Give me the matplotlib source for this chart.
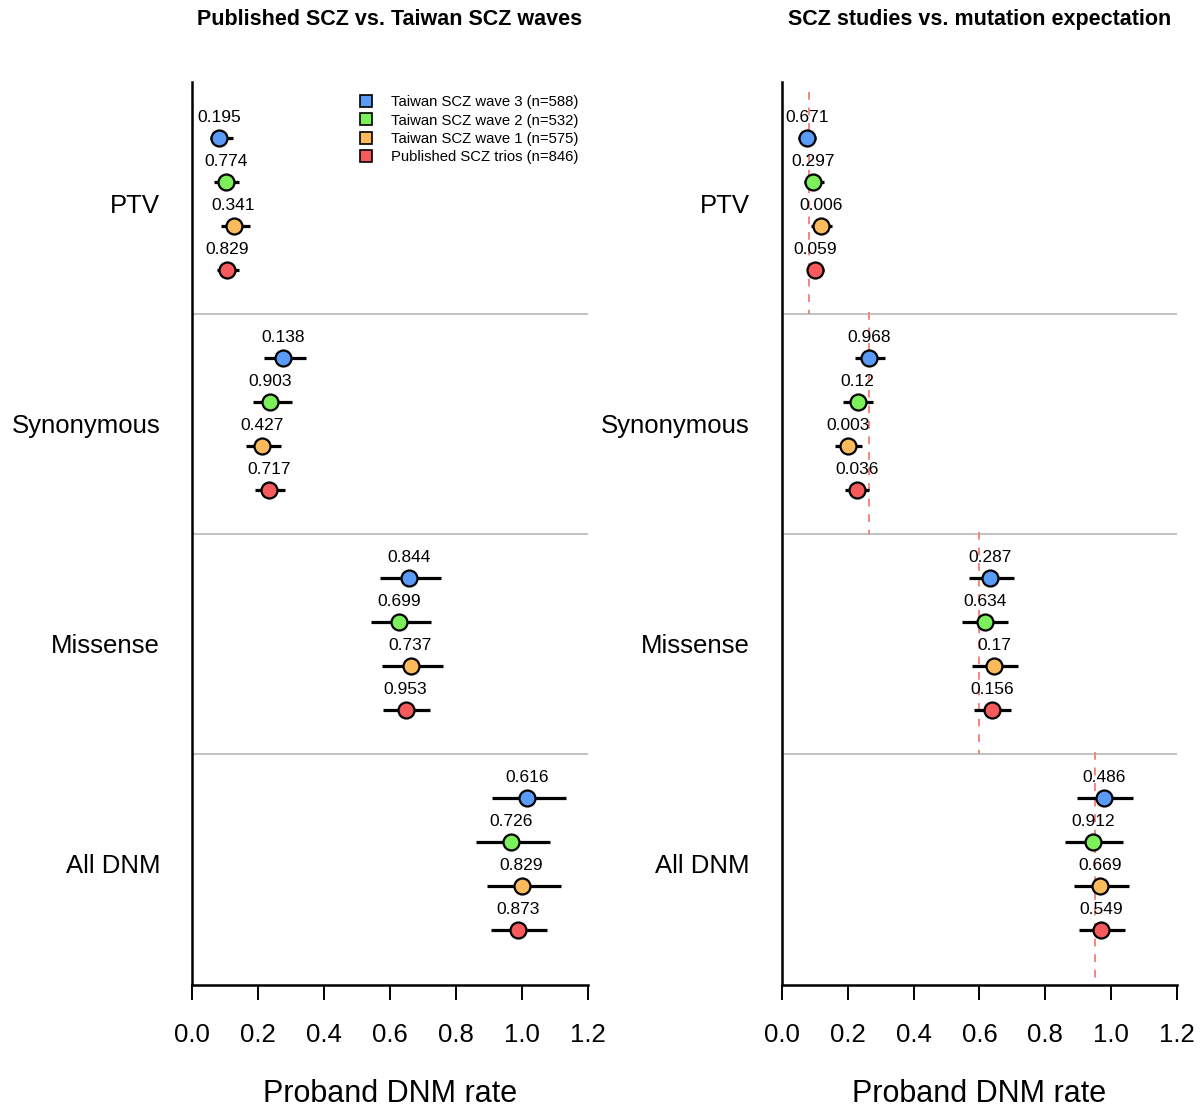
import matplotlib
matplotlib.use("Agg")
import matplotlib.pyplot as plt
from matplotlib.lines import Line2D
import numpy as np

plt.rcParams['font.family'] = ['Liberation Sans', 'DejaVu Sans']

# categories and series
groups = ['PTV', 'Synonymous', 'Missense', 'All DNM']
series = ['Taiwan SCZ wave 3 (n=588)', 'Taiwan SCZ wave 2 (n=532)',
          'Taiwan SCZ wave 1 (n=575)', 'Published SCZ trios (n=846)']
colors = ['#5B9BF8', '#7BF05A', '#FBBB5C', '#F65A5C']

# left panel: published vs Taiwan waves (rows = series, cols = groups)
left_rate = [[0.083, 0.276, 0.658, 1.017],
             [0.102, 0.237, 0.628, 0.967],
             [0.126, 0.212, 0.663, 1.000],
             [0.105, 0.234, 0.648, 0.989]]
left_lo = [[0.055, 0.219, 0.571, 0.911],
           [0.068, 0.186, 0.543, 0.862],
           [0.087, 0.164, 0.577, 0.896],
           [0.077, 0.192, 0.580, 0.906]]
left_hi = [[0.123, 0.346, 0.754, 1.134],
           [0.144, 0.304, 0.726, 1.085],
           [0.176, 0.271, 0.762, 1.119],
           [0.141, 0.282, 0.721, 1.078]]
left_p = [[0.195, 0.138, 0.844, 0.616],
          [0.774, 0.903, 0.699, 0.726],
          [0.341, 0.427, 0.737, 0.829],
          [0.829, 0.717, 0.953, 0.873]]

# right panel: studies vs mutation-rate expectation
right_rate = [[0.076, 0.265, 0.633, 0.979],
              [0.094, 0.230, 0.616, 0.944],
              [0.118, 0.201, 0.644, 0.967],
              [0.102, 0.228, 0.638, 0.970]]
right_lo = [[0.050, 0.221, 0.568, 0.896],
            [0.069, 0.186, 0.547, 0.861],
            [0.089, 0.162, 0.577, 0.886],
            [0.079, 0.192, 0.582, 0.903]]
right_hi = [[0.104, 0.314, 0.704, 1.065],
            [0.128, 0.278, 0.688, 1.035],
            [0.153, 0.245, 0.716, 1.055],
            [0.128, 0.265, 0.696, 1.043]]
right_p = [[0.671, 0.968, 0.287, 0.486],
           [0.297, 0.12, 0.634, 0.912],
           [0.006, 0.003, 0.17, 0.669],
           [0.059, 0.036, 0.156, 0.549]]
expected = [0.083, 0.264, 0.598, 0.951]

xticks = [0.0, 0.2, 0.4, 0.6, 0.8, 1.0, 1.2]

fig = plt.figure(figsize=(12.01, 11.10), dpi=100, facecolor='white')
ax_l = fig.add_axes([0.1599, 0.1126, 0.3293, 0.8135])
ax_r = fig.add_axes([0.6509, 0.1126, 0.3293, 0.8135])


def forest(ax, rate, lo, hi, pv, title):
    for g in range(len(groups)):
        for s in range(len(series)):
            y = g * 5 + 1 + s
            ax.plot([lo[s][g], hi[s][g]], [y, y], color='black', lw=2.3,
                    solid_capstyle='butt', zorder=3)
            ax.plot(rate[s][g], y, 'o', ms=11.5, mfc=colors[s], mec='black',
                    mew=1.6, zorder=4)
            ax.text(rate[s][g], y - 0.47, f"{pv[s][g]:g}", ha='center',
                    va='center', fontsize=12.5, zorder=5)
    for sep in [5, 10, 15]:
        ax.axhline(sep, color='#BDBDBD', lw=1.3, zorder=1)

    ax.set_xlim(0, 1.2)
    ax.set_ylim(20.25, -0.27)
    ax.set_xticks(xticks)
    ax.set_xticklabels([f"{t:.1f}" for t in xticks], fontsize=18.5)
    ax.set_yticks([g * 5 + 2.5 for g in range(len(groups))])
    ax.set_yticklabels(groups, fontsize=18.5)
    ax.tick_params(axis='y', length=0, pad=23)
    ax.tick_params(axis='x', length=11, width=1.4, pad=16.5)
    for side in ['top', 'right']:
        ax.spines[side].set_visible(False)
    for side in ['left', 'bottom']:
        ax.spines[side].set_linewidth(1.8)
    ax.set_xlabel('Proband DNM rate', fontsize=22, labelpad=23)
    ax.set_title(title, fontsize=15.5, fontweight='bold', pad=41)


forest(ax_l, left_rate, left_lo, left_hi, left_p,
       'Published SCZ vs. Taiwan SCZ waves')
forest(ax_r, right_rate, right_lo, right_hi, right_p,
       'SCZ studies vs. mutation expectation')

# expected rate per category, dashed within each block
for g, e in enumerate(expected):
    y0 = g * 5 - 0.05
    y1 = 20.25 if g == len(groups) - 1 else g * 5 + 5
    ax_r.vlines(e, y0, y1, colors='#F5857D', linestyles=(0, (4, 4)),
                lw=1.4, zorder=2)

handles = [Line2D([], [], marker='s', ls='', ms=8, mfc=c, mec='black', mew=1.2)
           for c in colors]
ax_l.legend(handles, series, loc='upper right', frameon=False, fontsize=10.7,
            handletextpad=0.7, labelspacing=0.28, borderaxespad=0.2,
            bbox_to_anchor=(1.0, 0.995))

fig.savefig('out.png', dpi=100, facecolor='white')
